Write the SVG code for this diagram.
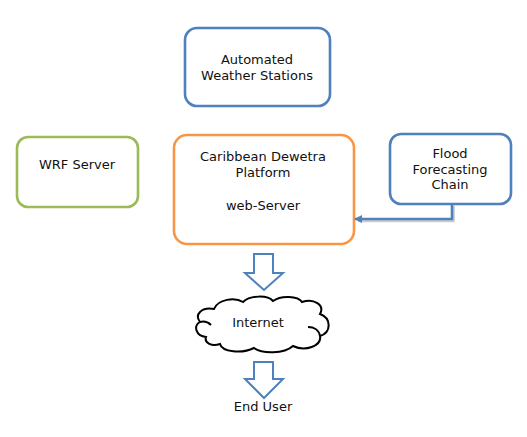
<svg xmlns="http://www.w3.org/2000/svg" width="527" height="437" viewBox="0 0 527 437">
<defs>
<style>
text{font-family:"DejaVu Sans","Liberation Sans",sans-serif;font-size:13px;fill:#111;text-anchor:middle}
.box{fill:#fff;stroke-width:2.6}
.blue{stroke:#4F81BD}
.orange{stroke:#F79646}
.green{stroke:#9BBB59}
.barrow{fill:#fff;stroke:#4F81BD;stroke-width:2}
.conn{fill:none;stroke:#4F81BD;stroke-width:2.6}
.shadow{fill:none;stroke:#9a9a9a;stroke-width:2.6;opacity:0.5}
</style>
<marker id="ah" viewBox="0 0 10 10" refX="9" refY="5" markerWidth="3.2" markerHeight="3.2" orient="auto" markerUnits="strokeWidth">
<path d="M0,0 L10,5 L0,10 Z" fill="#4F81BD"/>
</marker>
</defs>
<rect width="527" height="437" fill="#fff"/>
<g id="aws">
<rect class="box blue" x="185" y="28" width="145" height="78" rx="12"/>
<text x="257" y="64">Automated</text>
<text x="257" y="80">Weather Stations</text>
</g>
<g id="wrf">
<rect class="box green" x="17" y="137" width="121" height="70" rx="11"/>
<text x="77" y="169">WRF Server</text>
</g>
<g id="dewetra">
<rect class="box orange" x="174" y="135" width="180" height="109" rx="13"/>
<text x="263" y="161">Caribbean Dewetra</text>
<text x="263" y="177">Platform</text>
<text x="263" y="210">web-Server</text>
</g>
<g id="flood">
<rect class="box blue" x="390" y="134" width="121" height="70" rx="11"/>
<text x="450" y="158">Flood</text>
<text x="450" y="174">Forecasting</text>
<text x="450" y="189">Chain</text>
</g>
<g id="internet">
<path d="M206,337 C196,336 193,326 200,322 C194,314 202,307 214,309 C218,299 235,297 243,302 C250,295 268,295 273,301 C281,295 298,296 302,302 C314,298 325,305 320,314 C331,318 332,332 320,336 C322,346 305,352 293,346 C284,354 262,354 254,348 C242,354 222,352 220,344 C212,347 204,343 206,337 Z" fill="#fff" stroke="#000" stroke-width="2"/>
<path d="M200,322 C204,321 208,322 211,325" fill="none" stroke="#000" stroke-width="2"/>
<path d="M320,336 C319,330 314,327 308,327" fill="none" stroke="#000" stroke-width="2"/>
<text x="258" y="327">Internet</text>
</g>
<g id="enduser">
<text x="263" y="411">End User</text>
</g>
<g id="connectors">
<path class="shadow" d="M453.5,206 L453.5,221 L358,221"/>
<path class="conn" d="M452,204 L452,219 L355,219" marker-end="url(#ah)"/>
<path class="barrow" d="M254,254 L273,254 L273,273 L283,273 L264,290 L245,273 L254,273 Z"/>
<path class="barrow" d="M254,362 L273,362 L273,379 L283,379 L264,398 L245,379 L254,379 Z"/>
</g>
</svg>
